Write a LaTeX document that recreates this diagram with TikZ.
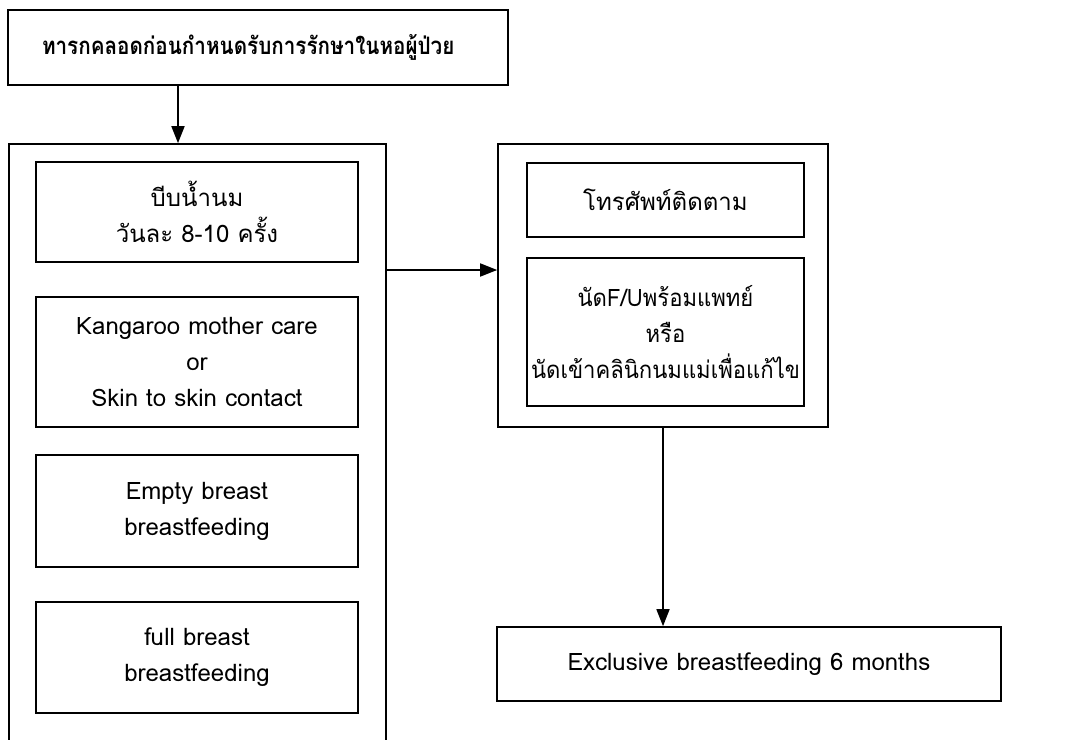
\documentclass[tikz,border=0pt]{standalone}
\usepackage{fontspec}
\setmainfont{Loma}[Script=Thai]
\newfontfamily\headfont{Loma}[Script=Thai, FakeStretch=0.86]
\newfontfamily\narrowfont{Loma}[Script=Thai, FakeStretch=0.92]
\usepackage{tikz}
\usetikzlibrary{positioning,arrows.meta}

\begin{document}
\begin{tikzpicture}[x=1pt, y=-1pt,
        every node/.style = {shape=rectangle, draw, line width=1.6pt,
        align=center, inner sep=0pt,
        font=\fontsize{24}{36}\selectfont},
        flow/.style = {line width=1.6pt, -{Triangle[length=17pt,width=13pt]}}]
        \useasboundingbox (0,0) rectangle (1076,739);
        \clip (0,0) rectangle (1076,739);
        % top
        \node (start) at (258,47.5) [minimum width=500pt, minimum height=75pt,
            inner xsep=34pt, text width=432pt, align=left,
            font=\fontsize{24}{36}\headfont\bfseries]
            {ทารกคลอดก่อนกำหนดรับการรักษาในหอผู้ป่วย};
        % left column
        \node (care) at (197.5,454) [minimum width=377pt, minimum height=620pt] {};
        \node (squeeze) at (197,212) [minimum width=322pt, minimum height=100pt]
            {บีบน้ำนม\\วันละ 8-10 ครั้ง};
        \node (kmc) at (197,362) [minimum width=322pt, minimum height=130pt]
            {Kangaroo mother care\\or\\Skin to skin contact};
        \node (empty) at (197,511) [minimum width=322pt, minimum height=112pt]
            {Empty breast\\breastfeeding};
        \node (full) at (197,657.5) [minimum width=322pt, minimum height=111pt]
            {full breast\\breastfeeding};
        % right column
        \node (follow) at (663,285.5) [minimum width=330pt, minimum height=283pt] {};
        \node (phone) at (665.5,200) [minimum width=277pt, minimum height=74pt]
            {โทรศัพท์ติดตาม};
        \node (appoint) at (665.5,332) [minimum width=277pt, minimum height=148pt,
            text width=277pt, font=\fontsize{24}{36}\narrowfont]
            {นัดF/Uพร้อมแพทย์\\หรือ\\นัดเข้าคลินิกนมแม่เพื่อแก้ไข};
        \node (goal) at (749,664) [minimum width=504pt, minimum height=74pt]
            {Exclusive breastfeeding 6 months};
        % arrows
        \coordinate (drop) at (178,0);
        \coordinate (link) at (0,270);
        \draw[flow] (drop |- start.south) -- (drop |- care.north);
        \draw[flow] (link -| care.east) -- (link -| follow.west);
        \draw[flow] (follow.south) -- (follow.south |- goal.north);
\end{tikzpicture}
\end{document}
